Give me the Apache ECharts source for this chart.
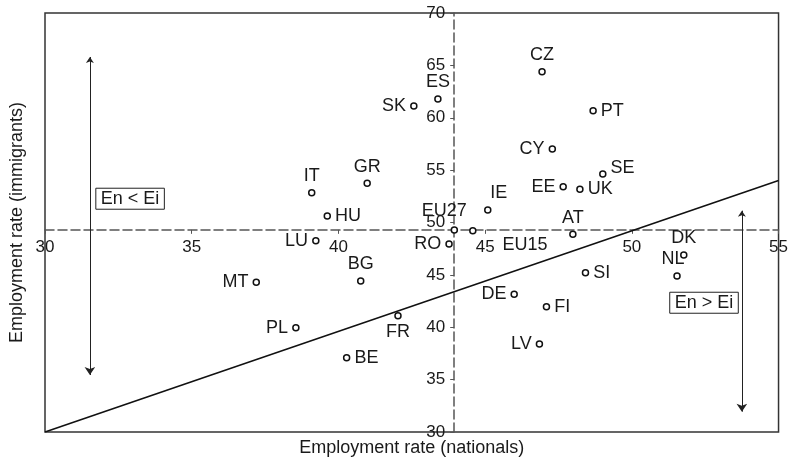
<!DOCTYPE html>
<html>
<head>
<meta charset="utf-8">
<script src="https://cdn.jsdelivr.net/npm/echarts@6/dist/echarts.min.js"></script>
<style>
  html, body { margin: 0; padding: 0; background: #fff; }
  #chart { width: 791px; height: 466px; }
</style>
</head>
<body>
<div id="chart"></div>
<script>
// employment rates, nationals (x) vs immigrants (y)
const countries = ['CZ', 'PT', 'ES', 'SK', 'CY', 'SE', 'EE', 'UK', 'GR', 'IT', 'HU', 'IE', 'EU27', 'EU15',
  'AT', 'RO', 'LU', 'DK', 'NL', 'SI', 'MT', 'BG', 'DE', 'FI', 'FR', 'PL', 'LV', 'BE']
const nationals = [46.94, 48.68, 43.39, 42.57, 47.29, 49.01, 47.66, 48.23, 40.98, 39.09, 39.62, 45.09, 43.95, 44.58,
  47.99, 43.77, 39.23, 51.77, 51.54, 48.42, 37.2, 40.76, 45.99, 47.09, 42.03, 38.55, 46.85, 40.28]
const immigrants = [64.4, 60.68, 61.79, 61.12, 57.02, 54.63, 53.42, 53.17, 53.74, 52.85, 50.62, 51.19, 49.28, 49.22,
  48.87, 47.95, 48.26, 46.9, 44.89, 45.21, 44.29, 44.41, 43.15, 41.96, 41.1, 39.96, 38.4, 37.09]

// axes cross at the EU averages
const crossX = 43.9
const crossY = 49.3
const xTicks = [30, 35, 40, 45, 50, 55]
const yTicks = [30, 35, 40, 45, 50, 55, 60, 65, 70]

// En = Ei reference line and annotations
const diagonalX = [30, 55]
const diagonalY = [30, 54]
const arrowLeft = [[31.53, 65.8], [31.53, 35.44]]
const arrowRight = [[53.75, 51.13], [53.75, 31.94]]
const boxTexts = ['En < Ei', 'En > Ei']
const boxX = [32.9, 52.46]
const boxY = [52.27, 42.34]

const labelPlace = {
  IT: ['top'], GR: ['top'], HU: ['right'], SK: ['left'], ES: ['top'], CZ: ['top'],
  PT: ['right'], CY: ['left'], SE: ['right', [0, -6]], EE: ['left'], UK: ['right'],
  IE: ['top', [11, 0]], EU27: ['top', [-10, -2]], EU15: ['right', [22, 14]], AT: ['top'],
  RO: ['left'], DK: ['top'], NL: ['top', [-4, 0]], SI: ['right'], DE: ['left'], FI: ['right'],
  LV: ['left'], FR: ['bottom'], LU: ['left'], MT: ['left'], BG: ['top'], PL: ['left'], BE: ['right']
}

const font = 'Liberation Sans, Arial, sans-serif'
const ink = '#1a1a1a'
const W = 791, H = 466
const grid = { left: 45, right: 10, top: 13, bottom: 34 }
const plotW = W - grid.left - grid.right
const plotH = H - grid.top - grid.bottom
const xMin = xTicks[0], xMax = xTicks[xTicks.length - 1]
const yMin = yTicks[0], yMax = yTicks[yTicks.length - 1]

const chart = echarts.init(document.getElementById('chart'))

const dashed = { color: '#555', width: 1.5, type: [9, 4] }

chart.setOption({
  animation: false,
  textStyle: { fontFamily: font },
  grid: Object.assign({ show: true, borderColor: '#333', borderWidth: 1.5 }, grid),
  xAxis: [
    {
      type: 'value', min: xMin, max: xMax, interval: 5, position: 'bottom',
      offset: -(crossY - yMin) / (yMax - yMin) * plotH,
      axisLine: { show: true, lineStyle: dashed },
      axisTick: { show: true, length: 4, lineStyle: { color: '#555' } },
      axisLabel: { fontSize: 17, color: ink, margin: 9, fontFamily: font },
      splitLine: { show: false }
    },
    {
      type: 'value', min: xMin, max: xMax, position: 'bottom',
      axisLine: { show: false }, axisTick: { show: false }, axisLabel: { show: false },
      splitLine: { show: false },
      name: 'Employment rate (nationals)', nameLocation: 'middle', nameGap: 7,
      nameTextStyle: { fontSize: 18, color: ink, fontFamily: font, verticalAlign: 'top' }
    }
  ],
  yAxis: [
    {
      type: 'value', min: yMin, max: yMax, interval: 5, position: 'left',
      offset: -(crossX - xMin) / (xMax - xMin) * plotW,
      axisLine: { show: true, lineStyle: dashed },
      axisTick: { show: true, length: 4, lineStyle: { color: '#555' } },
      axisLabel: { fontSize: 17, color: ink, margin: 9, fontFamily: font },
      splitLine: { show: false }
    },
    {
      type: 'value', min: yMin, max: yMax, position: 'left',
      axisLine: { show: false }, axisTick: { show: false }, axisLabel: { show: false },
      splitLine: { show: false },
      name: 'Employment rate (immigrants)', nameLocation: 'middle', nameGap: 19,
      nameTextStyle: { fontSize: 18, color: ink, fontFamily: font }
    }
  ],
  series: [
    {
      type: 'line',
      data: diagonalX.map((x, i) => [x, diagonalY[i]]),
      symbol: 'none',
      lineStyle: { color: '#111', width: 1.6 },
      z: 1
    },
    {
      type: 'lines',
      coordinateSystem: 'cartesian2d',
      data: [{ coords: arrowLeft }, { coords: arrowRight }],
      symbol: ['arrow', 'arrow'],
      symbolSize: [6, 8],
      lineStyle: { color: '#222', width: 1, opacity: 1 },
      z: 2
    },
    {
      type: 'scatter',
      data: countries.map((c, i) => ({
        name: c,
        value: [nationals[i], immigrants[i]],
        label: {
          position: labelPlace[c][0],
          offset: labelPlace[c][1] || [0, 0]
        }
      })),
      symbol: 'circle',
      symbolSize: 6,
      itemStyle: { color: '#fff', borderColor: '#111', borderWidth: 1.5, opacity: 1 },
      label: {
        show: true, formatter: '{b}', fontSize: 18, color: ink, distance: 4, fontFamily: font
      },
      z: 5
    },
    {
      type: 'scatter',
      data: boxTexts.map((t, i) => ({ name: t, value: [boxX[i], boxY[i]] })),
      symbolSize: 0,
      itemStyle: { opacity: 1 },
      label: {
        show: true, position: 'inside', formatter: '{b}', fontSize: 18, color: ink,
        borderColor: '#222', borderWidth: 1, padding: [2, 5, 1, 5], fontFamily: font
      },
      z: 4
    }
  ]
})
</script>
</body>
</html>
